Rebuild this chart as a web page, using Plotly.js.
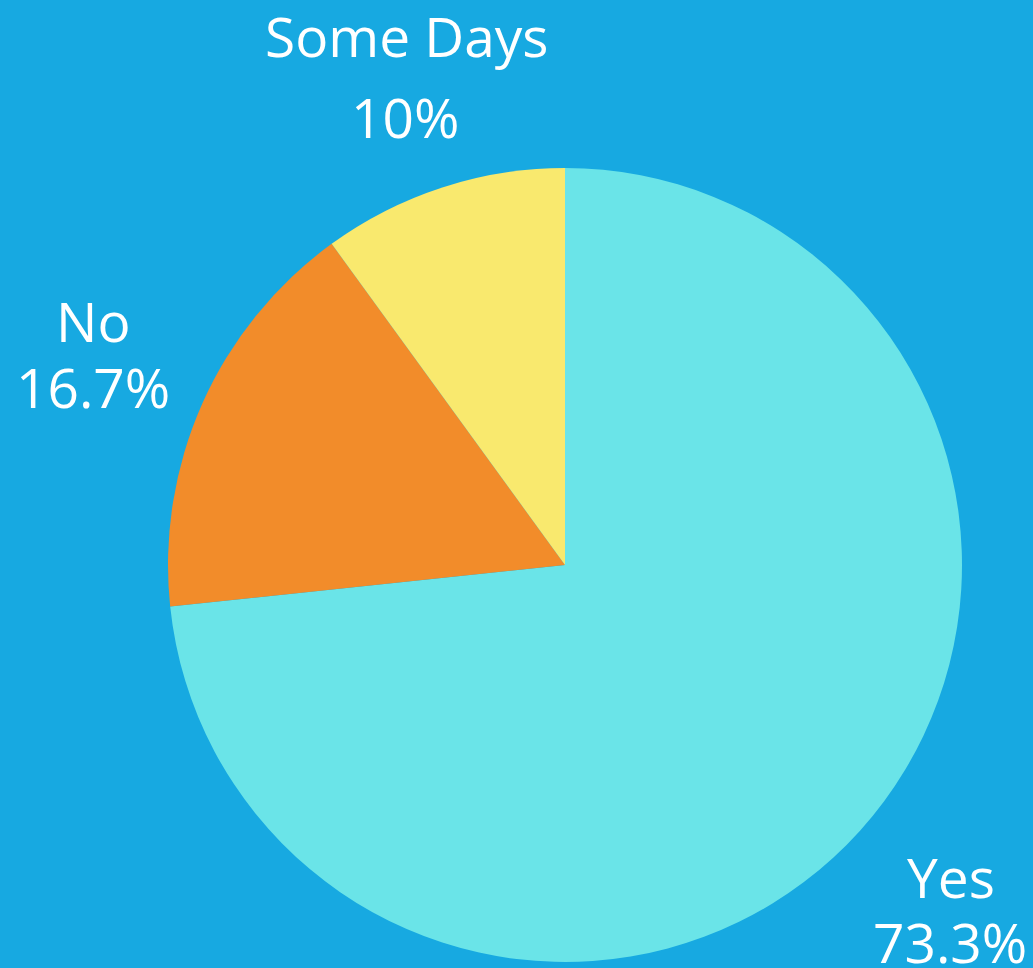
<!DOCTYPE html>
<html>
<head>
<meta charset="utf-8">
<script src="https://cdn.plot.ly/plotly-3.0.1.min.js"></script>
<style>html,body{margin:0;padding:0;background:#17a9e1;}</style>
</head>
<body>
<div id="chart" style="width:1033px;height:968px;"></div>
<script>
const labels = ["Yes", "No", "Some Days"];
const values = [22, 5, 3];
const colors = ["#6ae4e8", "#f28c2a", "#f9e96e"];

const W = 1033, H = 968;
const M = {l: 168, r: 71, t: 167, b: 5};
const pw = W - M.l - M.r, ph = H - M.t - M.b;
function px(x) { return (x - M.l) / pw; }
function py(y) { return (H - M.b - y) / ph; }

const total = values.reduce((a, b) => a + b, 0);
const pct = values.map(v => {
  const p = Math.round(v / total * 1000) / 10;
  return (Number.isInteger(p) ? p.toFixed(0) : p.toFixed(1)) + "%";
});

// label placement (pixel centres) for each slice: [labelX, labelY, pctX, pctY]
const place = [
  [951, 876, 950, 941],
  [93, 320, 93, 386],
  [406.5, 35, 404.5, 116]
];

const font = {family: "Open Sans", size: 55, color: "#ffffff"};
const annotations = [];
labels.forEach((lab, i) => {
  const p = place[i];
  annotations.push({xref: "paper", yref: "paper", x: px(p[0]), y: py(p[1]),
    xanchor: "center", yanchor: "middle", text: lab, showarrow: false, font: font});
  annotations.push({xref: "paper", yref: "paper", x: px(p[2]), y: py(p[3]),
    xanchor: "center", yanchor: "middle", text: pct[i], showarrow: false, font: font});
});

Plotly.newPlot("chart", [{
  type: "pie",
  labels: labels,
  values: values,
  sort: false,
  direction: "clockwise",
  rotation: 0,
  marker: {colors: colors, line: {width: 0}},
  textinfo: "none",
  automargin: false,
  hoverinfo: "none"
}], {
  width: W,
  height: H,
  paper_bgcolor: "#17a9e1",
  plot_bgcolor: "#17a9e1",
  showlegend: false,
  margin: M,
  annotations: annotations
}, {displayModeBar: false, staticPlot: true});
</script>
</body>
</html>
